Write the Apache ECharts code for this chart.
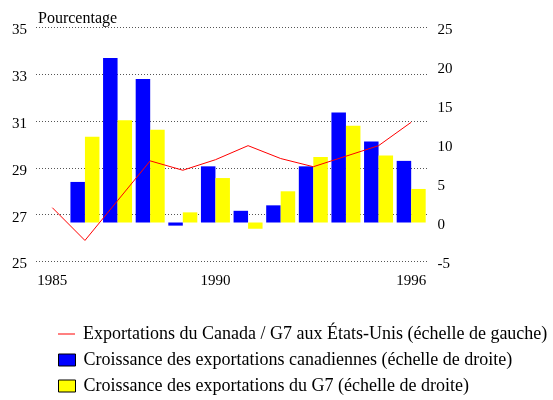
<!DOCTYPE html>
<html>
<head>
<meta charset="utf-8">
<script src="https://cdn.jsdelivr.net/npm/echarts@6/dist/echarts.min.js"></script>
<style>html,body{margin:0;padding:0;background:#fff}#c{width:553px;height:400px}</style>
</head>
<body>
<div id="c"></div>
<script>
var years = ['1985','1986','1987','1988','1989','1990','1991','1992','1993','1994','1995','1996'];
var ratioCanadaG7 = [27.3, 25.9, 27.6, 29.3, 28.9, 29.35, 29.95, 29.4, 29.05, 29.5, 29.95, 30.95];
var growthCanada = [null, 5.2, 21.1, 18.4, -0.4, 7.2, 1.5, 2.2, 7.2, 14.1, 10.4, 7.9];
var growthG7 = [null, 11.0, 13.1, 11.9, 1.3, 5.7, -0.8, 4.0, 8.4, 12.4, 8.6, 4.3];
var shownYearLabels = ['1985','1990','1996'];
var names = [
  'Exportations du Canada / G7 aux États-Unis (échelle de gauche)',
  'Croissance des exportations canadiennes (échelle de droite)',
  'Croissance des exportations du G7 (échelle de droite)'
];
var FONT = 'Liberation Serif';
var chart = echarts.init(document.getElementById('c'), null, {renderer:'canvas'});
var legendBase = {
  orient:'vertical', left:58, padding:0, itemWidth:17, itemHeight:12,
  textStyle:{fontFamily:FONT, fontSize:18, color:'#000', padding:[0,0,0,3]},
  selectedMode:false
};
chart.setOption({
  animation:false,
  backgroundColor:'#fff',
  title:{text:'Pourcentage', left:33, top:6, textStyle:{fontFamily:FONT, fontSize:16, fontWeight:'normal', color:'#000'}},
  grid:{left:36, right:125.5, top:27.5, bottom:138.5, containLabel:false},
  legend:[
    Object.assign({}, legendBase, {top:325, data:[{name:names[0], icon:'path://M0,0L17,0L17,1L0,1Z', itemStyle:{color:'#ff0000'}}]}),
    Object.assign({}, legendBase, {top:351, data:[{name:names[1], icon:'rect', itemStyle:{color:'#0000ff', borderColor:'#000', borderWidth:1}}]}),
    Object.assign({}, legendBase, {top:377, data:[{name:names[2], icon:'rect', itemStyle:{color:'#ffff00', borderColor:'#000', borderWidth:1}}]})
  ],
  xAxis:{
    type:'category', data:years, boundaryGap:true,
    axisLine:{show:false}, axisTick:{show:false},
    axisLabel:{fontFamily:FONT, fontSize:15, color:'#000', margin:12,
      interval:function(i, v){ return shownYearLabels.indexOf(v) >= 0; }}
  },
  yAxis:[
    {type:'value', min:25, max:35, interval:2, position:'left',
     axisLine:{show:false}, axisTick:{show:false},
     axisLabel:{fontFamily:FONT, fontSize:15, color:'#000', margin:9, verticalAlign:'top', lineHeight:6},
     splitLine:{show:true, lineStyle:{type:[1,2], color:'#555', width:1}}},
    {type:'value', min:-5, max:25, interval:5, position:'right',
     axisLine:{show:false}, axisTick:{show:false},
     axisLabel:{fontFamily:FONT, fontSize:15, color:'#000', margin:10, verticalAlign:'top', lineHeight:6},
     splitLine:{show:false}}
  ],
  series:[
    {name:names[0], type:'line', yAxisIndex:0, data:ratioCanadaG7, symbol:'none', z:5,
     lineStyle:{color:'#ff0000', width:1}, itemStyle:{color:'#ff0000'}},
    {name:names[1], type:'bar', yAxisIndex:1, data:growthCanada, barWidth:14.5, barGap:'0%',
     itemStyle:{color:'#0000ff'}},
    {name:names[2], type:'bar', yAxisIndex:1, data:growthG7, barWidth:14.5, barGap:'0%',
     itemStyle:{color:'#ffff00'}}
  ]
});
</script>
</body>
</html>
